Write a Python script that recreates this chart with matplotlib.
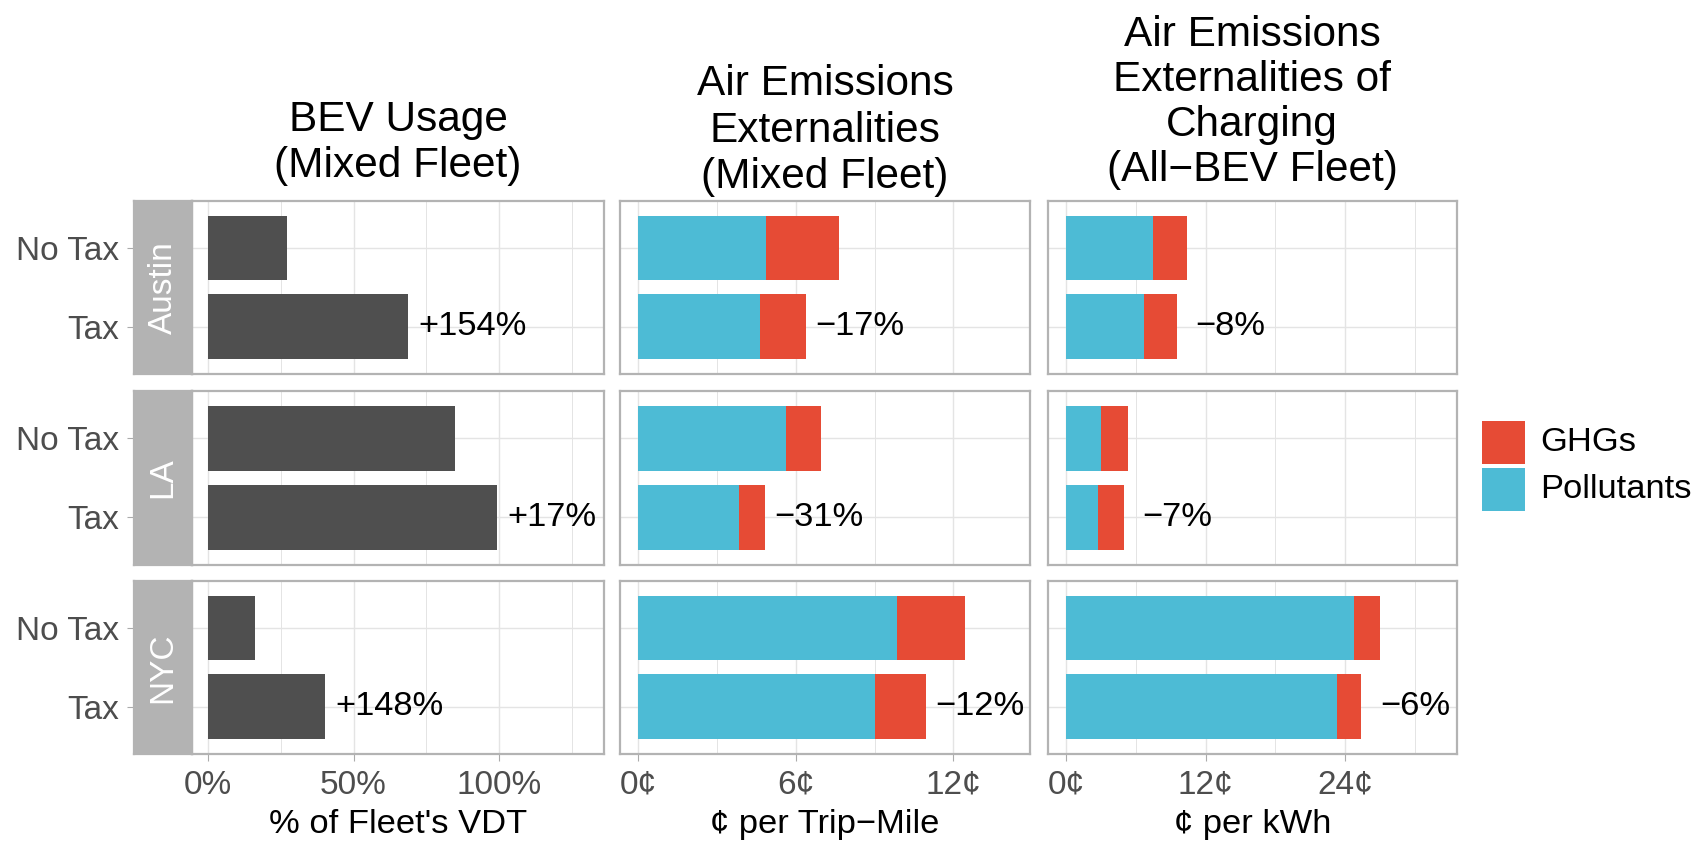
import matplotlib
matplotlib.use("Agg")
import matplotlib.pyplot as plt
from matplotlib.patches import Rectangle

plt.rcParams['font.family'] = ['Liberation Sans', 'DejaVu Sans']

# ---- data -------------------------------------------------------------
cities = ["Austin", "LA", "NYC"]
scenarios = ["No Tax", "Tax"]

# BEV share of the fleet's vehicle distance travelled, % (No Tax, Tax)
bev_share = {"Austin": [27.1, 68.8], "LA": [85.0, 99.4], "NYC": [16.2, 40.2]}

# Mixed-fleet air emissions externalities, cents per trip-mile (No Tax, Tax)
trip_pollutants = {"Austin": [4.86, 4.64], "LA": [5.63, 3.84], "NYC": [9.85, 9.01]}
trip_ghgs = {"Austin": [2.79, 1.74], "LA": [1.32, 0.98], "NYC": [2.60, 1.94]}

# All-BEV fleet charging externalities, cents per kWh (No Tax, Tax)
kwh_pollutants = {"Austin": [7.42, 6.66], "LA": [2.96, 2.71], "NYC": [24.73, 23.28]}
kwh_ghgs = {"Austin": [2.93, 2.85], "LA": [2.34, 2.23], "NYC": [2.27, 2.12]}

panel_titles = ["BEV Usage\n(Mixed Fleet)",
                "Air Emissions\nExternalities\n(Mixed Fleet)",
                "Air Emissions\nExternalities of\nCharging\n(All\u2212BEV Fleet)"]
x_titles = ["% of Fleet's VDT", "\u00a2 per Trip\u2212Mile", "\u00a2 per kWh"]
x_major_ticks = [[0, 50, 100], [0, 6, 12], [0, 12, 24]]
x_minor_ticks = [[25, 75, 125], [3, 9], [6, 18, 30]]
x_units = ["%", "\u00a2", "\u00a2"]
legend_labels = ["GHGs", "Pollutants"]

# ---- style --------------------------------------------------------------
W, H, DPI = 1708, 841, 100
BAR_GREY = "#4F4F4F"
GHG_RED = "#E64B35"
POLL_BLUE = "#4DBBD5"
BORDER = "#B3B3B3"
GRID = "#E4E4E4"
TICK_TXT = "#4D4D4D"
FS_TICK = 24
FS_TEXT = 24.8
FS_TITLE = 30.5
BAR_H = 0.82

x_limits = [(-5.6, 136.2), (-0.70, 14.92), (-1.6, 33.6)]
label_nudge = [3.6, 0.36, 1.6]
row_spans = [(200.7, 374.0), (390.7, 565.0), (580.7, 754.0)]
col_spans = [(191.8, 604.2), (620.0, 1030.0), (1047.7, 1456.7)]
strip_span = (134.4, 191.8)
title_last_baseline = [176.7, 188.0, 181.0]
title_pitch = [46.0, 46.5, 45.0]
xlabel_baseline = 833.0

fig = plt.figure(figsize=(W / DPI, H / DPI), dpi=DPI)
fig.patch.set_facecolor("white")


def box(left, top, right, bottom):
    return [left / W, 1 - bottom / H, (right - left) / W, (bottom - top) / H]


def fy(y_px):
    return 1 - y_px / H


def fx(x_px):
    return x_px / W


def pct_label(no_tax, tax):
    change = round((tax / no_tax - 1) * 100)
    return f"{change:+d}%".replace("-", "\u2212")


ypos = {"No Tax": 1, "Tax": 0}
yvals = [ypos[s] for s in scenarios]

for r, city in enumerate(cities):
    top, bottom = row_spans[r]
    for c in range(3):
        left, right = col_spans[c]
        ax = fig.add_axes(box(left, top, right, bottom))
        ax.set_xlim(*x_limits[c])
        ax.set_ylim(-0.6, 1.6)
        ax.set_facecolor("white")
        ax.set_axisbelow(True)

        ax.set_xticks(x_major_ticks[c])
        ax.set_xticks(x_minor_ticks[c], minor=True)
        ax.set_yticks(yvals)
        ax.grid(True, which="major", color=GRID, linewidth=1.0)
        ax.grid(True, which="minor", axis="x", color=GRID, linewidth=0.7)
        ax.tick_params(axis="y", which="both", length=0, labelleft=False)
        ax.tick_params(axis="x", which="minor", length=0)
        if r == len(cities) - 1:
            ax.tick_params(axis="x", which="major", length=5, width=0.8,
                           color="#ABABAB", pad=6.5, labelsize=FS_TICK,
                           labelcolor=TICK_TXT)
            ax.set_xticklabels([f"{v:g}{x_units[c]}" for v in x_major_ticks[c]])
        else:
            ax.tick_params(axis="x", which="major", length=0, labelbottom=False)
        for sp in ax.spines.values():
            sp.set_color(BORDER)
            sp.set_linewidth(1.6)

        if c == 0:
            vals = bev_share[city]
            ax.barh(yvals, vals, height=BAR_H, color=BAR_GREY, linewidth=0)
            totals = vals
        else:
            poll = (trip_pollutants if c == 1 else kwh_pollutants)[city]
            ghg = (trip_ghgs if c == 1 else kwh_ghgs)[city]
            ax.barh(yvals, poll, height=BAR_H, color=POLL_BLUE, linewidth=0)
            ax.barh(yvals, ghg, left=poll, height=BAR_H, color=GHG_RED, linewidth=0)
            totals = [p + g for p, g in zip(poll, ghg)]

        ax.text(totals[1] + label_nudge[c], ypos["Tax"], pct_label(totals[0], totals[1]),
                ha="left", va="center", fontsize=FS_TEXT, color="black")

    # facet strip with the city name, plus the scenario axis labels
    sax = fig.add_axes(box(strip_span[0], top, strip_span[1], bottom))
    sax.set_facecolor(BORDER)
    sax.set_ylim(-0.6, 1.6)
    sax.set_xticks([])
    sax.set_yticks(yvals)
    sax.set_yticklabels(scenarios)
    sax.tick_params(axis="y", length=5, width=0.8, color="#ABABAB", pad=6,
                    labelsize=FS_TICK, labelcolor=TICK_TXT)
    for sp in sax.spines.values():
        sp.set_color(BORDER)
        sp.set_linewidth(1.6)
    sax.text(0.5, 0.5, city, rotation=90, ha="center", va="center",
             transform=sax.transAxes, color="white", fontsize=FS_TICK)

# column titles and axis titles
for c in range(3):
    left, right = col_spans[c]
    cx = fx((left + right) / 2)
    lines = panel_titles[c].split("\n")
    n = len(lines)
    for i, line in enumerate(lines):
        base = title_last_baseline[c] - (n - 1 - i) * title_pitch[c]
        fig.text(cx, fy(base), line, ha="center", va="baseline",
                 fontsize=FS_TITLE, color="black")
    fig.text(cx, fy(xlabel_baseline), x_titles[c], ha="center", va="baseline",
             fontsize=FS_TEXT, color="black")

# legend
key_left, key_size, key_top, key_gap = 1482.0, 43.0, 420.7, 4.0
for i, (lab, col) in enumerate(zip(legend_labels, [GHG_RED, POLL_BLUE])):
    t = key_top + i * (key_size + key_gap)
    fig.patches.append(Rectangle((fx(key_left), fy(t + key_size)),
                                 key_size / W, key_size / H,
                                 transform=fig.transFigure, facecolor=col,
                                 edgecolor="none"))
    fig.text(fx(1540.0), fy(t + key_size / 2), lab, ha="left", va="center",
             fontsize=FS_TEXT, color="black")

fig.savefig("out.png", dpi=DPI, facecolor="white")
